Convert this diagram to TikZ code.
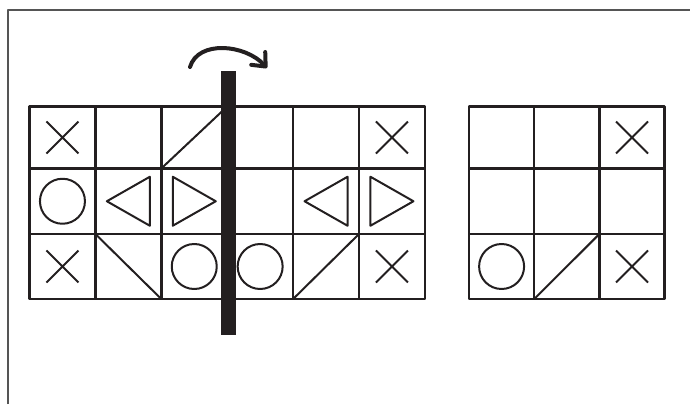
\documentclass[tikz,border=0pt]{standalone}
\usepackage{xcolor}
\usepackage{tikz}
\usetikzlibrary{arrows.meta,positioning,calc}

\definecolor{ink}{RGB}{35,31,32}
\definecolor{framegray}{RGB}{85,85,85}

\begin{document}
\begin{tikzpicture}[
    x=1pt,
    y=-1pt,
    line join=round,
    cell/.style={
        draw=ink,
        line width=2.4pt,
        minimum width=65.9pt,
        inner sep=0pt,
        outer sep=0pt
    },
    rcell/.style={
        cell,
        minimum width=65.2pt
    },
    symbol/.style={
        draw=ink,
        line width=2pt
    },
    foldbar/.style={
        fill=ink,
        minimum width=15pt,
        minimum height=264pt,
        inner sep=0pt
    },
    turn/.style={
        draw=ink,
        line width=4pt,
        line cap=round,
        -{Straight Barb[length=11pt,width=19pt,line cap=round,line join=round]}
    },
    cross/.pic={
        \draw[symbol] (-16,-16) -- (16,16) (-16,16) -- (16,-16);
    },
    ring/.pic={
        \draw[symbol] (0,0) circle[radius=22.5];
    },
    pointleft/.pic={
        \draw[symbol] (-21.5,0) -- (21.5,-24.5) -- (21.5,24.5) -- cycle;
    },
    pointright/.pic={
        \draw[symbol] (21.5,0) -- (-21.5,-24.5) -- (-21.5,24.5) -- cycle;
    }
]

\useasboundingbox (0,0) rectangle (690,404);

% Frame
\draw[framegray, line width=1.4pt] (8,404) -- (8,10) -- (690,10);

% Left grid, 3 x 6
\foreach \r/\yc/\h in {1/137.5/62, 2/201.25/65.5, 3/266.5/65} {
    \foreach \c in {1,...,6} {
        \node[cell, minimum height=\h pt] (L-\r-\c) at ({29.5+65.9*(\c-0.5)}, \yc) {};
    }
}

% Right grid, 3 x 3
\foreach \r/\yc/\h in {1/137.5/62, 2/201.25/65.5, 3/266.5/65} {
    \foreach \c in {1,...,3} {
        \node[rcell, minimum height=\h pt] (R-\r-\c) at ({469+65.2*(\c-0.5)}, \yc) {};
    }
}

% Symbols
\foreach \cl in {L-1-1, L-1-6, L-3-1, L-3-6, R-1-3, R-3-3}
    \pic at (\cl) {cross};

\foreach \cl in {L-2-1, L-3-3, L-3-4, R-3-1}
    \pic at (\cl) {ring};

\foreach \cl in {L-2-2, L-2-5}
    \pic at (\cl) {pointleft};

\foreach \cl in {L-2-3, L-2-6}
    \pic at (\cl) {pointright};

\foreach \cl in {L-1-3, L-3-5, R-3-2}
    \draw[symbol] (\cl.south west) -- (\cl.north east);

\draw[symbol] (L-3-2.north west) -- (L-3-2.south east);

% Fold line and turn arrow
\node[foldbar] (fold) at (228.5,203) {};

\coordinate (turnA) at (190,67);
\coordinate (turnB) at (267,68);

\draw[turn]
    (turnA)
    .. controls (198,40) and (245,44) ..
    (turnB);

\end{tikzpicture}
\end{document}
